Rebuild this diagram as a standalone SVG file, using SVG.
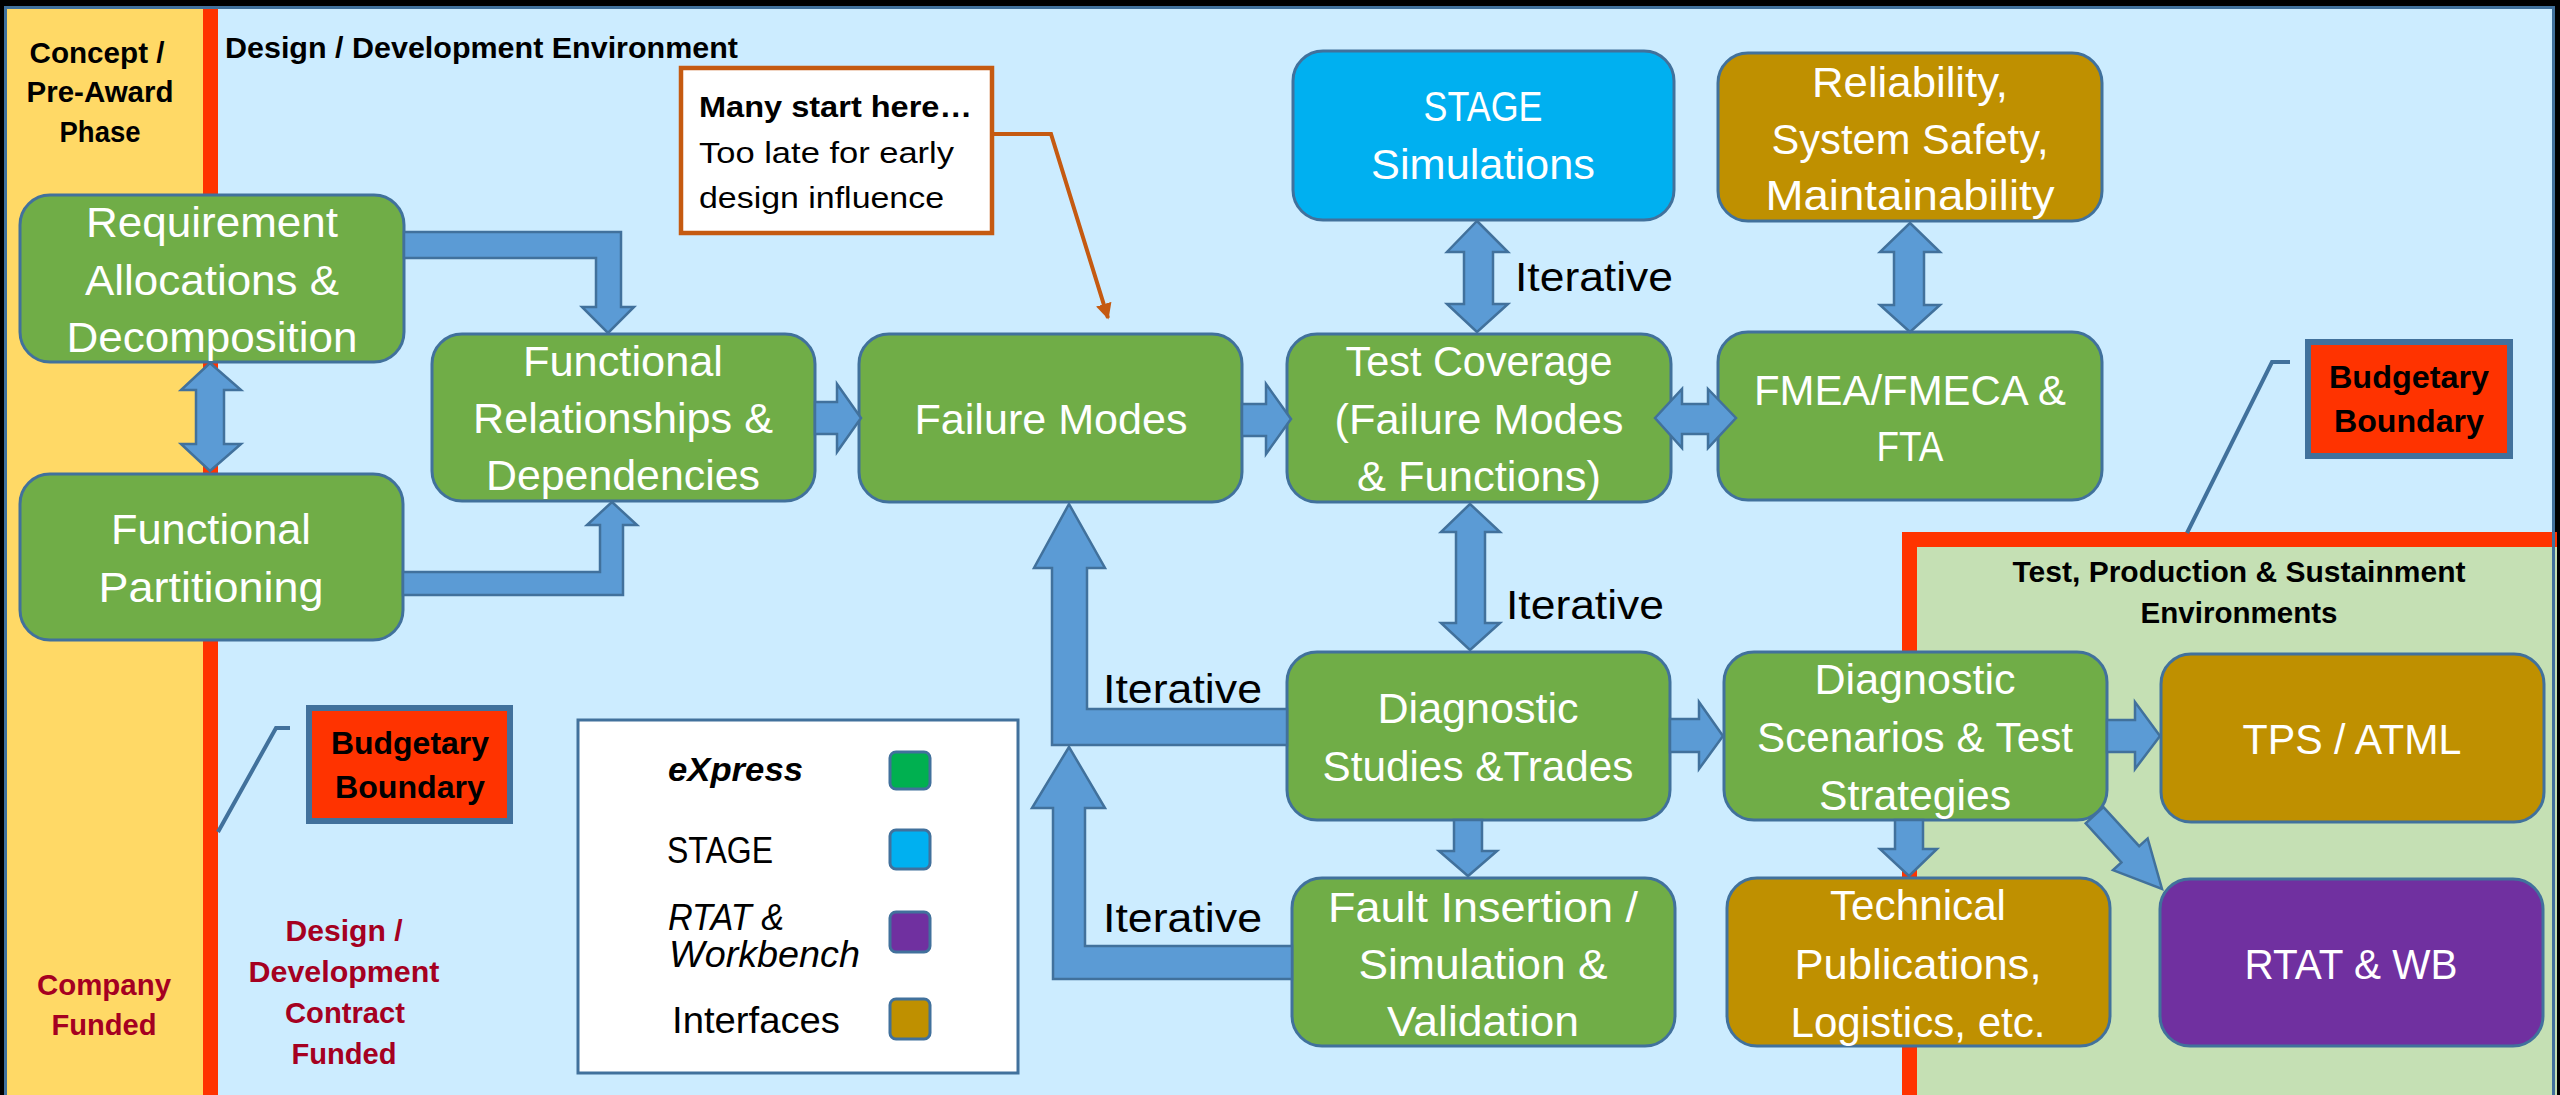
<svg xmlns="http://www.w3.org/2000/svg" width="2560" height="1095" viewBox="0 0 2560 1095">
<defs>
<style>
text { font-family: "Liberation Sans", Arial, sans-serif; }
.node { stroke: #41719C; stroke-width: 3; }
.g { fill: #70AD47; } .b { fill: #00B0F0; } .o { fill: #BF9000; } .p { fill: #7030A0; }
.nt { font-size: 42px; fill: #FFFFFF; text-anchor: middle; }
.arr { fill: #5B9BD5; stroke: #41719C; stroke-width: 2.5; }
.bold { font-weight: bold; font-size: 30px; fill: #000000; }
.mid { text-anchor: middle; }
.dr { font-weight: bold; font-size: 30px; fill: #A50021; text-anchor: middle; }
.it { font-size: 40px; fill: #000000; }
.bud { fill: #FF3300; stroke: #41719C; stroke-width: 6; }
.budt { font-weight: bold; font-size: 31px; fill: #000000; text-anchor: middle; }
.leg { font-size: 36px; fill: #000000; }
.sw { stroke: #41719C; stroke-width: 3; }
</style>
<marker id="oa" viewBox="0 0 10 10" refX="9" refY="5" markerWidth="4" markerHeight="4.5" orient="auto" markerUnits="strokeWidth">
<path d="M0,0 L10,5 L0,10 Z" fill="#C55A11"/>
</marker>
</defs>

<!-- background / regions -->
<rect x="0" y="0" width="2560" height="1095" fill="#000000"/>
<rect x="5" y="7" width="2549" height="1100" fill="#CCECFF"/>
<rect x="6" y="9" width="197" height="1090" fill="#FFD966"/>
<rect x="203" y="9" width="15" height="1090" fill="#FF3300"/>
<rect x="1917" y="547" width="640" height="550" fill="#C5E0B4"/>
<rect x="1902" y="532" width="655" height="15" fill="#FF3300"/>
<rect x="1902" y="532" width="15" height="565" fill="#FF3300"/>
<rect x="5.5" y="7.5" width="2548" height="1100" fill="none" stroke="#41719C" stroke-width="3"/>

<!-- region labels -->
<text class="bold mid" x="97" y="63" textLength="135" lengthAdjust="spacingAndGlyphs">Concept /</text>
<text class="bold mid" x="100" y="102" textLength="147" lengthAdjust="spacingAndGlyphs">Pre-Award</text>
<text class="bold mid" x="100" y="142" textLength="81" lengthAdjust="spacingAndGlyphs">Phase</text>
<text class="bold" x="225" y="58" textLength="513" lengthAdjust="spacingAndGlyphs">Design / Development Environment</text>
<text class="bold mid" x="2239" y="582" textLength="453" lengthAdjust="spacingAndGlyphs">Test, Production &amp; Sustainment</text>
<text class="bold mid" x="2239" y="623" textLength="197" lengthAdjust="spacingAndGlyphs">Environments</text>
<text class="dr" x="104" y="995" textLength="134" lengthAdjust="spacingAndGlyphs">Company</text>
<text class="dr" x="104" y="1035" textLength="105" lengthAdjust="spacingAndGlyphs">Funded</text>
<text class="dr" x="344" y="941" textLength="117" lengthAdjust="spacingAndGlyphs">Design /</text>
<text class="dr" x="344" y="982" textLength="191" lengthAdjust="spacingAndGlyphs">Development</text>
<text class="dr" x="345" y="1023" textLength="120" lengthAdjust="spacingAndGlyphs">Contract</text>
<text class="dr" x="344" y="1064" textLength="105" lengthAdjust="spacingAndGlyphs">Funded</text>

<!-- callout -->
<g id="callout">
<rect x="681" y="68" width="311" height="165" fill="#FFFFFF" stroke="#C55A11" stroke-width="4.5"/>
<text class="bold" x="699" y="117" font-size="29" textLength="273" lengthAdjust="spacingAndGlyphs">Many start here…</text>
<text x="699" y="163" font-size="29" fill="#000" textLength="255" lengthAdjust="spacingAndGlyphs">Too late for early</text>
<text x="699" y="208" font-size="29" fill="#000" textLength="245" lengthAdjust="spacingAndGlyphs">design influence</text>
</g>

<!-- budgetary boundaries -->
<g id="budget-top">
<polyline points="2290,362 2272,362 2187,533" fill="none" stroke="#41719C" stroke-width="4"/>
<rect class="bud" x="2308" y="342" width="202" height="114"/>
<text class="budt" x="2409" y="388" textLength="160" lengthAdjust="spacingAndGlyphs">Budgetary</text>
<text class="budt" x="2409" y="432" textLength="150" lengthAdjust="spacingAndGlyphs">Boundary</text>
</g>
<g id="budget-left">
<polyline points="290,728 276,728 218,832" fill="none" stroke="#41719C" stroke-width="4"/>
<rect class="bud" x="309" y="708" width="201" height="113"/>
<text class="budt" x="410" y="754" textLength="158" lengthAdjust="spacingAndGlyphs">Budgetary</text>
<text class="budt" x="410" y="798" textLength="150" lengthAdjust="spacingAndGlyphs">Boundary</text>
</g>

<!-- legend -->
<g id="legend">
<rect x="578" y="720" width="440" height="353" fill="#FFFFFF" stroke="#41719C" stroke-width="3"/>
<text x="668" y="781" font-size="33" font-weight="bold" font-style="italic" fill="#000" textLength="135" lengthAdjust="spacingAndGlyphs">eXpress</text>
<text class="leg" x="667" y="863" textLength="106" lengthAdjust="spacingAndGlyphs">STAGE</text>
<text class="leg" x="668" y="930" font-style="italic" textLength="116" lengthAdjust="spacingAndGlyphs">RTAT &amp;</text>
<text class="leg" x="669" y="967" font-style="italic" textLength="191" lengthAdjust="spacingAndGlyphs">Workbench</text>
<text class="leg" x="672" y="1033" textLength="168" lengthAdjust="spacingAndGlyphs">Interfaces</text>
<rect class="sw" x="890" y="752" width="40" height="37" rx="6" fill="#00B050"/>
<rect class="sw" x="890" y="830" width="40" height="39" rx="6" fill="#00B0F0"/>
<rect class="sw" x="890" y="912" width="40" height="40" rx="6" fill="#7030A0"/>
<rect class="sw" x="890" y="999" width="40" height="40" rx="6" fill="#BF9000"/>
</g>

<!-- nodes -->
<g id="req">
<rect class="node g" x="20" y="195" width="384" height="167" rx="30"/>
<text class="nt" x="212" y="237" textLength="252" lengthAdjust="spacingAndGlyphs">Requirement</text>
<text class="nt" x="212" y="295" textLength="254" lengthAdjust="spacingAndGlyphs">Allocations &amp;</text>
<text class="nt" x="212" y="352" textLength="291" lengthAdjust="spacingAndGlyphs">Decomposition</text>
</g>
<g id="func-part">
<rect class="node g" x="20" y="474" width="383" height="166" rx="30"/>
<text class="nt" x="211" y="544" textLength="200" lengthAdjust="spacingAndGlyphs">Functional</text>
<text class="nt" x="211" y="602" textLength="225" lengthAdjust="spacingAndGlyphs">Partitioning</text>
</g>
<g id="func-rel">
<rect class="node g" x="432" y="334" width="383" height="167" rx="30"/>
<text class="nt" x="623" y="376" textLength="200" lengthAdjust="spacingAndGlyphs">Functional</text>
<text class="nt" x="623" y="433" textLength="300" lengthAdjust="spacingAndGlyphs">Relationships &amp;</text>
<text class="nt" x="623" y="490" textLength="274" lengthAdjust="spacingAndGlyphs">Dependencies</text>
</g>
<g id="failure-modes">
<rect class="node g" x="859" y="334" width="383" height="168" rx="30"/>
<text class="nt" x="1051" y="434" textLength="273" lengthAdjust="spacingAndGlyphs">Failure Modes</text>
</g>
<g id="test-coverage">
<rect class="node g" x="1287" y="334" width="384" height="168" rx="30"/>
<text class="nt" x="1479" y="376" textLength="267" lengthAdjust="spacingAndGlyphs">Test Coverage</text>
<text class="nt" x="1479" y="434" textLength="289" lengthAdjust="spacingAndGlyphs">(Failure Modes</text>
<text class="nt" x="1479" y="491" textLength="244" lengthAdjust="spacingAndGlyphs">&amp; Functions)</text>
</g>
<g id="stage">
<rect class="node b" x="1293" y="51" width="381" height="169" rx="30"/>
<text class="nt" x="1483" y="121" textLength="119" lengthAdjust="spacingAndGlyphs">STAGE</text>
<text class="nt" x="1483" y="179" textLength="224" lengthAdjust="spacingAndGlyphs">Simulations</text>
</g>
<g id="reliability">
<rect class="node o" x="1718" y="53" width="384" height="168" rx="30"/>
<text class="nt" x="1910" y="97" textLength="196" lengthAdjust="spacingAndGlyphs">Reliability,</text>
<text class="nt" x="1910" y="154" textLength="277" lengthAdjust="spacingAndGlyphs">System Safety,</text>
<text class="nt" x="1910" y="210" textLength="289" lengthAdjust="spacingAndGlyphs">Maintainability</text>
</g>
<g id="fmea">
<rect class="node g" x="1718" y="332" width="384" height="168" rx="30"/>
<text class="nt" x="1910" y="405" textLength="312" lengthAdjust="spacingAndGlyphs">FMEA/FMECA &amp;</text>
<text class="nt" x="1910" y="461" textLength="67" lengthAdjust="spacingAndGlyphs">FTA</text>
</g>
<g id="diag-studies">
<rect class="node g" x="1287" y="652" width="383" height="168" rx="30"/>
<text class="nt" x="1478" y="723" textLength="201" lengthAdjust="spacingAndGlyphs">Diagnostic</text>
<text class="nt" x="1478" y="781" textLength="311" lengthAdjust="spacingAndGlyphs">Studies &amp;Trades</text>
</g>
<g id="fault-insertion">
<rect class="node g" x="1292" y="878" width="383" height="168" rx="30"/>
<text class="nt" x="1483" y="922" textLength="310" lengthAdjust="spacingAndGlyphs">Fault Insertion /</text>
<text class="nt" x="1483" y="979" textLength="249" lengthAdjust="spacingAndGlyphs">Simulation &amp;</text>
<text class="nt" x="1483" y="1036" textLength="192" lengthAdjust="spacingAndGlyphs">Validation</text>
</g>
<g id="diag-scenarios">
<rect class="node g" x="1724" y="652" width="383" height="168" rx="30"/>
<text class="nt" x="1915" y="694" textLength="201" lengthAdjust="spacingAndGlyphs">Diagnostic</text>
<text class="nt" x="1915" y="752" textLength="316" lengthAdjust="spacingAndGlyphs">Scenarios &amp; Test</text>
<text class="nt" x="1915" y="810" textLength="192" lengthAdjust="spacingAndGlyphs">Strategies</text>
</g>
<g id="tps">
<rect class="node o" x="2161" y="654" width="383" height="168" rx="30"/>
<text class="nt" x="2352" y="754" textLength="219" lengthAdjust="spacingAndGlyphs">TPS / ATML</text>
</g>
<g id="tech-pubs">
<rect class="node o" x="1727" y="878" width="383" height="168" rx="30"/>
<text class="nt" x="1918" y="920" textLength="176" lengthAdjust="spacingAndGlyphs">Technical</text>
<text class="nt" x="1918" y="979" textLength="247" lengthAdjust="spacingAndGlyphs">Publications,</text>
<text class="nt" x="1918" y="1037" textLength="255" lengthAdjust="spacingAndGlyphs">Logistics, etc.</text>
</g>
<g id="rtat-wb">
<rect class="node p" x="2160" y="879" width="383" height="167" rx="30"/>
<text class="nt" x="2351" y="979" textLength="213" lengthAdjust="spacingAndGlyphs">RTAT &amp; WB</text>
</g>

<!-- connectors -->
<g id="connectors">
<polygon class="arr" points="404,232 621,232 621,307 634,307 608,333 582,307 596,307 596,258 404,258"/>
<polygon class="arr" points="403,572 600,572 600,525 587,525 612,502 637,525 623,525 623,595 403,595"/>
<polygon class="arr" points="210,363 241,390 224,390 224,444 241,444 210,471 181,444 196,444 196,390 181,390"/>
<polygon class="arr" points="815,402 837,402 837,384 861,418 837,452 837,434 815,434"/>
<polygon class="arr" points="1242,404 1266,404 1266,384 1291,419 1266,454 1266,436 1242,436"/>
<polygon class="arr" points="1477,221 1508,252 1493,252 1493,304 1508,304 1477,332 1447,304 1464,304 1464,252 1447,252"/>
<polygon class="arr" points="1910,223 1940,252 1924,252 1924,305 1940,305 1910,332 1880,305 1894,305 1894,252 1880,252"/>
<polygon class="arr" points="1655,418 1682,389 1682,404 1708,404 1708,389 1736,418 1708,448 1708,434 1682,434 1682,448"/>
<polygon class="arr" points="1470,504 1500,532 1485,532 1485,623 1500,623 1470,650 1441,623 1456,623 1456,532 1441,532"/>
<polygon class="arr" points="1287,709 1087,709 1087,568 1105,568 1069,504 1034,568 1052,568 1052,745 1287,745"/>
<polygon class="arr" points="1292,946 1085,946 1085,808 1105,808 1069,747 1032,808 1053,808 1053,979 1292,979"/>
<polygon class="arr" points="1454,820 1482,820 1482,851 1497,851 1468,876 1439,851 1454,851"/>
<polygon class="arr" points="1670,719 1699,719 1699,702 1723,736 1699,769 1699,752 1670,752"/>
<polygon class="arr" points="2107,720 2135,720 2135,702 2160,736 2135,769 2135,752 2107,752"/>
<polygon class="arr" points="1895,820 1923,820 1923,849 1937,849 1909,876 1880,849 1895,849"/>
<polygon class="arr" transform="translate(2162,889) rotate(47.6)" points="-100,-12 -47,-12 -47,-23.5 0,0 -47,23.5 -47,12 -100,12"/>
<polyline points="992,134 1051,134 1108,318" fill="none" stroke="#C55A11" stroke-width="4" marker-end="url(#oa)"/>
</g>

<!-- connector labels -->
<text class="it" x="1515" y="291" textLength="158" lengthAdjust="spacingAndGlyphs">Iterative</text>
<text class="it" x="1506" y="619" textLength="158" lengthAdjust="spacingAndGlyphs">Iterative</text>
<text class="it" x="1103" y="703" textLength="159" lengthAdjust="spacingAndGlyphs">Iterative</text>
<text class="it" x="1103" y="932" textLength="159" lengthAdjust="spacingAndGlyphs">Iterative</text>
</svg>
